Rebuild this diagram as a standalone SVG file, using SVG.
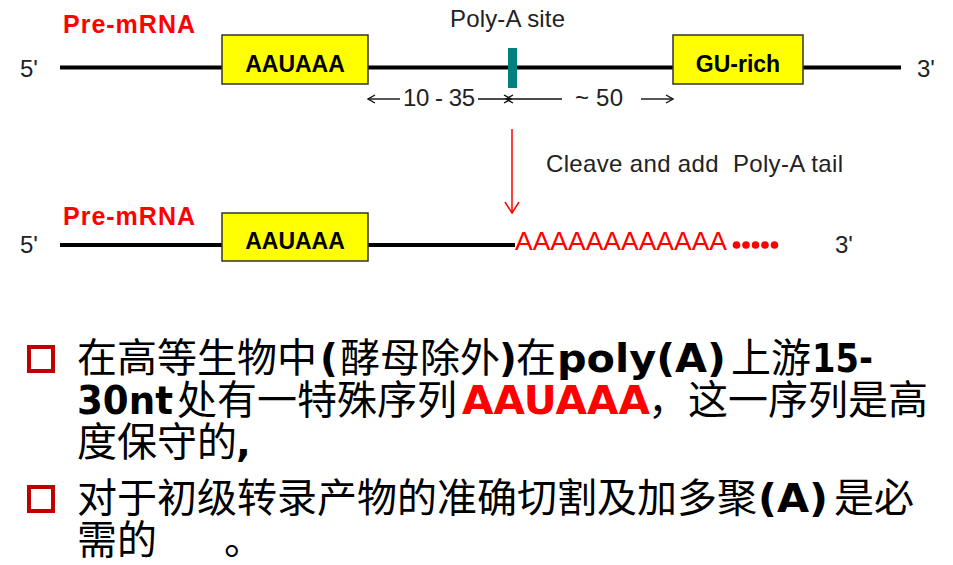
<svg xmlns="http://www.w3.org/2000/svg" width="953" height="565" viewBox="0 0 953 565">
<style>
.strand{stroke:#000;stroke-width:4;fill:none}
.box{fill:#ffff00;stroke:#333;stroke-width:1.5}
.boxt{font-family:"Liberation Sans",Arial,sans-serif;font-weight:bold;font-size:23px;fill:#000;text-anchor:middle}
.lbl{font-family:"Liberation Sans",Arial,sans-serif;font-size:24px;fill:#222}
.pre{font-family:"Liberation Sans",Arial,sans-serif;font-weight:bold;font-size:25px;fill:#ff0000}
.dim{stroke:#111;stroke-width:1.4;fill:none}
.cn{font-family:"Noto Sans CJK SC",sans-serif;font-size:40px;fill:#000}
.b{font-family:"DejaVu Sans",Verdana,sans-serif;font-weight:bold;font-size:39px;fill:#000}
.bullet{fill:none;stroke:#c00000;stroke-width:4}
</style>
<defs>
<marker id="openR" markerWidth="10" markerHeight="10" refX="9" refY="5" orient="auto" markerUnits="userSpaceOnUse"><path d="M2,1 L9,5 L2,9" fill="none" stroke="#111" stroke-width="1.4"/></marker>
<marker id="redHead" markerWidth="16" markerHeight="16" refX="14" refY="8" orient="auto" markerUnits="userSpaceOnUse"><path d="M3,1 L14,8 L3,15" fill="none" stroke="#ff0000" stroke-width="1.5"/></marker>
</defs>

<g id="strand-top">
<line class="strand" x1="60" y1="67.5" x2="901" y2="67.5"/>
<text class="lbl" x="20" y="77">5'</text>
<text class="lbl" x="917" y="77">3'</text>
<text class="pre" x="63" y="33" textLength="132">Pre-mRNA</text>
</g>
<g id="box-aauaaa-1">
<rect class="box" x="222" y="35" width="146" height="49"/>
<text class="boxt" x="295" y="72">AAUAAA</text>
</g>
<g id="polyA-site">
<rect x="508" y="48" width="9" height="40" fill="#008080"/>
<text class="lbl" x="450" y="27" textLength="115">Poly-A site</text>
</g>
<g id="box-gu-rich">
<rect class="box" x="673" y="35" width="130" height="49"/>
<text class="boxt" x="738" y="72">GU-rich</text>
</g>

<g id="strand-bottom">
<line class="strand" x1="60" y1="245" x2="515" y2="245"/>
<text class="lbl" x="20" y="253">5'</text>
<text class="lbl" x="835" y="253">3'</text>
<text class="pre" x="63" y="225" textLength="132">Pre-mRNA</text>
</g>
<g id="box-aauaaa-2">
<rect class="box" x="222" y="213" width="146" height="48"/>
<text class="boxt" x="295" y="249">AAUAAA</text>
</g>
<g id="polyA-tail">
<text x="515" y="250" font-family="Liberation Sans, Arial, sans-serif" font-size="26" fill="#ff0000" textLength="212" lengthAdjust="spacingAndGlyphs">AAAAAAAAAAAA</text>
<g fill="#ff0000">
<circle cx="736.5" cy="245" r="3.8"/>
<circle cx="746" cy="245" r="3.8"/>
<circle cx="755.5" cy="245" r="3.8"/>
<circle cx="765" cy="245" r="3.8"/>
<circle cx="774.5" cy="245" r="3.8"/>
</g>
</g>

<g id="connectors">
<line class="dim" x1="400" y1="99" x2="368" y2="99" marker-end="url(#openR)"/>
<line class="dim" x1="478" y1="99" x2="511" y2="99" marker-end="url(#openR)"/>
<line class="dim" x1="562" y1="99" x2="506" y2="99" marker-end="url(#openR)"/>
<line class="dim" x1="641" y1="99" x2="673" y2="99" marker-end="url(#openR)"/>
<line x1="512" y1="129" x2="512" y2="213" stroke="#ff0000" stroke-width="1.5" marker-end="url(#redHead)"/>
</g>
<g id="connector-labels">
<text class="lbl" x="403" y="106" textLength="72">10 - 35</text>
<text class="lbl" x="575" y="106" textLength="48">~ 50</text>
<text class="lbl" x="546" y="172" textLength="297">Cleave and add&#160; Poly-A tail</text>
</g>

<g id="notes">
<rect class="bullet" x="29" y="347" width="24" height="24"/>
<rect class="bullet" x="29" y="487" width="24" height="24"/>
<text class="cn" x="77" y="372">在高等生物中</text>
<text class="b" x="320" y="372">(</text>
<text class="cn" x="340" y="372">酵母除外</text>
<text class="b" x="499" y="372">)</text>
<text class="cn" x="516" y="372">在</text>
<text class="b" x="557" y="372" textLength="169" lengthAdjust="spacingAndGlyphs">poly(A)</text>
<text class="cn" x="731" y="372">上游</text>
<text class="b" x="812" y="372" textLength="61" lengthAdjust="spacingAndGlyphs">15-</text>

<text class="b" x="77" y="414" textLength="96" lengthAdjust="spacingAndGlyphs">30nt</text>
<text class="cn" x="177" y="414">处有一特殊序列</text>
<text class="b" x="462" y="414" textLength="188" lengthAdjust="spacingAndGlyphs" style="fill:#ff0000">AAUAAA</text>
<text class="cn" x="648" y="414">，这一序列是高</text>

<text class="cn" x="77" y="456">度保守的</text>
<text class="b" x="236" y="456">,</text>

<text class="cn" x="77" y="512">对于初级转录产物的准确切割及加多聚</text>
<text class="b" x="758" y="512" textLength="70" lengthAdjust="spacingAndGlyphs">(A)</text>
<text class="cn" x="834" y="512">是必</text>

<text class="cn" x="77" y="554">需的</text>
<text class="cn" x="224" y="554">。</text>
</g>
</svg>
